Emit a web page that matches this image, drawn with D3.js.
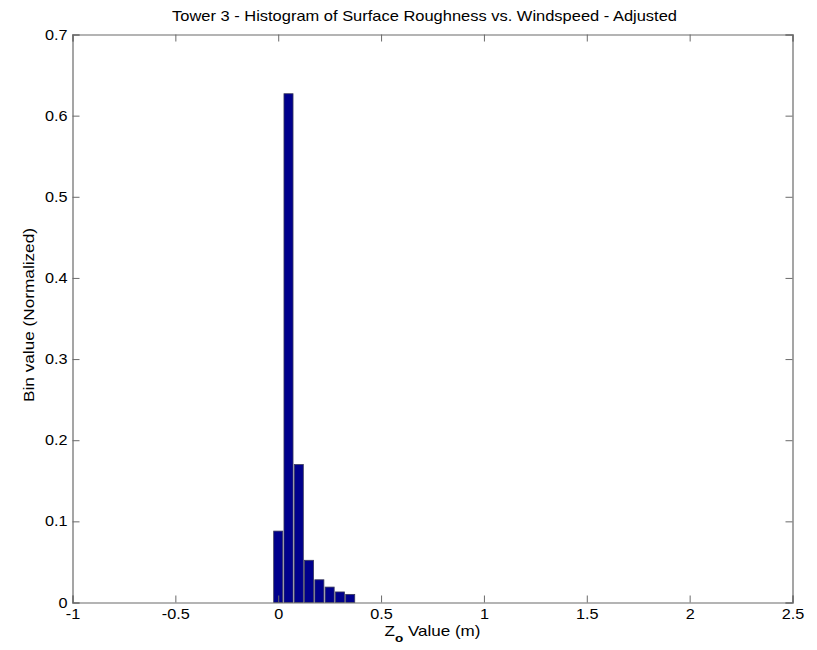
<!DOCTYPE html>
<html><head><meta charset="utf-8">
<script src="https://cdn.jsdelivr.net/npm/d3@7"></script>
<style>body{margin:0;background:#fff;} text{font-family:"Liberation Sans",Arial,sans-serif;}</style>
</head><body>
<svg id="c" width="817" height="650"></svg>
<script>
const binCenters = [0, 0.05, 0.10, 0.15, 0.20, 0.25, 0.30, 0.35];
const binValues  = [0.088, 0.627, 0.170, 0.052, 0.028, 0.019, 0.013, 0.010];
const xTicks = [-1, -0.5, 0, 0.5, 1, 1.5, 2, 2.5];
const yTicks = [0, 0.1, 0.2, 0.3, 0.4, 0.5, 0.6, 0.7];
const title = "Tower 3 - Histogram of Surface Roughness vs. Windspeed - Adjusted";
const yLabel = "Bin value (Normalized)";

const svg = d3.select("#c");
const L = 72.5, R = 792.5, T = 34.5, B = 602.5;
const x = d3.scaleLinear().domain([-1, 2.5]).range([L, R]);
const y = d3.scaleLinear().domain([0, 0.7]).range([B, T]);
const binW = 0.05, frac = 0.88;
const axisColor = "#6a6a6a";
const stretch = 1.12;

// bars
svg.append("g").selectAll("rect").data(binCenters).join("rect")
  .attr("x", (d) => x(d - binW*frac/2))
  .attr("width", (d) => x(d + binW*frac/2) - x(d - binW*frac/2))
  .attr("y", (d,i) => y(binValues[i]))
  .attr("height", (d,i) => y(0) - y(binValues[i]))
  .attr("fill", "#00008c").attr("stroke", "#3a3a5a").attr("stroke-width", 0.8);

// axes
const fmt = d => String(d);
const gx = svg.append("g").attr("transform", `translate(0,${B})`)
  .call(d3.axisBottom(x).tickValues(xTicks).tickSize(-7).tickPadding(5).tickFormat(fmt));
const gxt = svg.append("g").attr("transform", `translate(0,${T})`)
  .call(d3.axisTop(x).tickValues(xTicks).tickSize(-7).tickFormat(""));
const gy = svg.append("g").attr("transform", `translate(${L},0)`)
  .call(d3.axisLeft(y).tickValues(yTicks).tickSize(-7).tickPadding(5).tickFormat(fmt));
const gyr = svg.append("g").attr("transform", `translate(${R},0)`)
  .call(d3.axisRight(y).tickValues(yTicks).tickSize(-7).tickFormat(""));
[gx, gxt, gy, gyr].forEach(g => {
  g.select(".domain").attr("stroke", axisColor).attr("stroke-width", 1.2);
  g.selectAll(".tick line").attr("stroke", axisColor).attr("stroke-width", 1);
  g.selectAll(".tick text").attr("fill", "#000").style("font-size", "14.5px").style("font-family", "Liberation Sans, Arial, sans-serif");
});
gx.selectAll(".tick text").attr("y", 16.5).attr("dy", 0);
[gx, gy].forEach(g => g.selectAll(".tick text").each(function(){
  const len = this.getComputedTextLength();
  d3.select(this).attr("textLength", len*stretch).attr("lengthAdjust", "spacingAndGlyphs");
}));

// title
svg.append("text").attr("x", 424.5).attr("y", 21).attr("text-anchor", "middle")
  .style("font-size", "14.5px").attr("textLength", 505).attr("lengthAdjust", "spacingAndGlyphs").text(title);

// x label with subscript
const xl = svg.append("text").attr("x", 432.5).attr("y", 636).attr("text-anchor", "middle")
  .style("font-size", "14.5px").attr("textLength", 96).attr("lengthAdjust", "spacingAndGlyphs");
xl.append("tspan").text("Z");
xl.append("tspan").attr("dy", 6).style("font-size", "11.5px").style("font-weight", "bold").text("o");
xl.append("tspan").attr("dy", -6).text(" Value (m)");

// y label
svg.append("text").attr("transform", `translate(34,315) rotate(-90)`).attr("text-anchor", "middle")
  .style("font-size", "15px").attr("textLength", 174).attr("lengthAdjust", "spacingAndGlyphs").text(yLabel);
</script>
</body></html>
